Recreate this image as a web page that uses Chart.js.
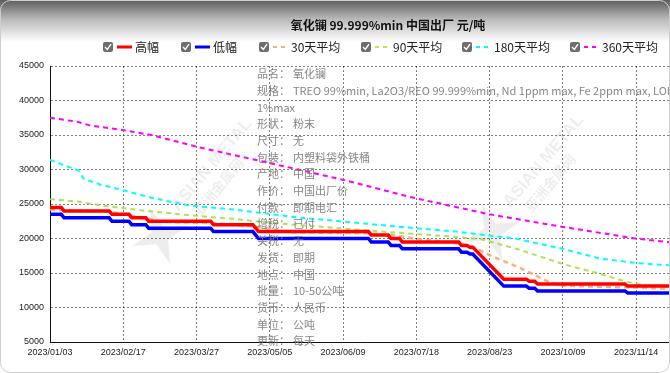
<!DOCTYPE html>
<html><head><meta charset="utf-8">
<script src="https://cdn.jsdelivr.net/npm/chart.js@4"></script>
<style>
html,body{margin:0;padding:0;background:#fff;}
canvas{display:block;}
</style></head>
<body>
<canvas id="c" width="670" height="373"></canvas>
<script>
// ---------- data ----------
const titleText = '氧化镧 99.999%min 中国出厂 元/吨';
const seriesNames = ['高幅', '低幅', '30天平均', '90天平均', '180天平均', '360天平均'];
const xTickIdx = [0, 26, 52, 78, 104, 130, 156, 182, 208];
const xTickLabels = ['2023/01/03', '2023/02/17', '2023/03/27', '2023/05/05', '2023/06/09', '2023/07/18', '2023/08/23', '2023/10/09', '2023/11/14'];
const yTicks = [5000, 10000, 15000, 20000, 25000, 30000, 35000, 40000, 45000];

// [trading-day index, price]
const high = [[0,24500],[4,24500],[5,24000],[21,24000],[22,23500],[28,23500],[29,23000],[34,23000],[35,22500],[57,22500],[58,22000],[72,22000],[73,21500],[74,21000],[113,21000],[114,20500],[120,20500],[121,20000],[124,20000],[125,19500],[145,19500],[146,19000],[148,19000],[149,18750],[150,18750],[161,14100],[169,14100],[170,13800],[172,13800],[173,13400],[204,13400],[205,13100],[220,13100]];
const low = [[0,23500],[4,23500],[5,23000],[21,23000],[22,22500],[28,22500],[29,22000],[34,22000],[35,21500],[57,21500],[58,21000],[72,21000],[73,20500],[74,20000],[113,20000],[114,19500],[120,19500],[121,19000],[124,19000],[125,18500],[145,18500],[146,18000],[148,18000],[149,17750],[150,17750],[161,13100],[169,13100],[170,12800],[172,12800],[173,12400],[204,12400],[205,12100],[220,12100]];
const avg30 = [[0,24150],[18,23950],[21,23900],[27,23450],[32,23100],[39,22500],[44,22350],[57,22250],[64,22000],[73,21700],[78,21400],[85,20900],[113,20750],[121,20550],[131,19900],[142,19450],[148,19050],[151,18600],[156,17600],[167,15700],[176,13900],[181,13150],[202,12950],[220,12700]];
const avg90 = [[0,25700],[10,25350],[18,24800],[32,24100],[49,23400],[65,22850],[75,22400],[99,21600],[121,20900],[142,20300],[153,19900],[166,18450],[182,16300],[194,15000],[205,13700],[212,13150],[220,13000]];
const avg180 = [[0,31400],[5,30600],[10,29900],[12,28650],[18,27800],[26,27000],[36,25900],[49,24800],[65,24200],[75,23700],[89,23000],[103,22500],[124,21700],[144,21000],[165,20000],[182,18500],[195,17100],[208,16450],[220,16100]];
const avg360 = [[0,37500],[10,36900],[14,36400],[26,35700],[36,35000],[52,33300],[75,31200],[87,30100],[105,28400],[129,25900],[156,23500],[181,21750],[207,20050],[220,19450]];

const infoLabels = ['品名：','规格：','1%max','形状：','尺寸：','包装：','产地：','作价：','付款：','增税：','关税：','发货：','地点：','批量：','货币：','单位：','更新：'];
const infoValues = ['氧化镧','TREO 99%min, La2O3/REO 99.999%min, Nd 1ppm max, Fe 2ppm max, LOI','','粉末','无','内塑料袋外铁桶','中国','中国出厂价','即期电汇','已付','无','即期','中国','10-50公吨','人民币','公吨','每天'];

// ---------- styles ----------
const colors = ['#ff0000', '#0000ff', 'rgba(244,164,96,0.85)', 'rgba(160,222,60,0.85)', '#00ffff', '#ff00ff'];
const swatchColors = ['#ff0000', '#0000ff', '#f4b183', '#b5e853', '#00ffff', '#ff00ff'];
const toXY = arr => arr.map(p => ({x: p[0], y: p[1]}));

function star4(ctx, cx, cy, r1, r2) {
  ctx.beginPath();
  for (let i = 0; i < 8; i++) {
    const a = -Math.PI / 2 + i * Math.PI / 4;
    const r = i % 2 === 0 ? r1 : r2;
    const px = cx + r * Math.cos(a), py = cy + r * Math.sin(a);
    if (i === 0) ctx.moveTo(px, py); else ctx.lineTo(px, py);
  }
  ctx.closePath();
  ctx.fill();
}
function watermark(ctx, x, y) {
  ctx.save();
  ctx.translate(x, y);
  ctx.fillStyle = 'rgba(0,0,0,0.07)';
  ctx.save(); ctx.rotate(-20 * Math.PI / 180); star4(ctx, 0, 0, 30, 9); ctx.restore();
  ctx.rotate(-50 * Math.PI / 180);
  ctx.font = 'bold 17px "Liberation Sans"';
  ctx.textBaseline = 'middle';
  ctx.fillText('ASIAN METAL', 30, -6);
  ctx.font = 'bold 14px "Noto Sans CJK SC"';
  ctx.fillText('亚洲金属网', 40, 13);
  ctx.restore();
}

const deco = {
  id: 'deco',
  beforeDraw(chart) {
    const ctx = chart.ctx;
    ctx.save();
    ctx.fillStyle = '#fff';
    ctx.fillRect(0, 0, 670, 373);
    const g = ctx.createLinearGradient(0, 0, 0, 42);
    g.addColorStop(0, '#5c5c5c');
    g.addColorStop(0.45, '#b8b8b8');
    g.addColorStop(1, '#ffffff');
    ctx.fillStyle = g;
    ctx.fillRect(0, 0, 670, 42);
    ctx.restore();
  },
  beforeDatasetsDraw(chart) {
    const ctx = chart.ctx;
    watermark(ctx, 160, 236);
    watermark(ctx, 492, 232);
  },
  afterDraw(chart) {
    const ctx = chart.ctx;
    ctx.save();
    // title
    ctx.fillStyle = '#111';
    ctx.font = 'bold 12px "Noto Sans CJK SC"';
    ctx.textAlign = 'center';
    ctx.textBaseline = 'middle';
    ctx.fillText(titleText, 388, 25);
    // legend
    const cbX = [103, 181, 259, 361, 462, 570];
    ctx.textAlign = 'left';
    ctx.font = '12px "Noto Sans CJK SC"';
    const ly = 47;
    for (let i = 0; i < seriesNames.length; i++) {
      const x = cbX[i];
      ctx.fillStyle = '#6e6e6e';
      ctx.beginPath();
      ctx.roundRect(x, ly - 5, 10, 10, 2);
      ctx.fill();
      ctx.strokeStyle = '#fff';
      ctx.lineWidth = 1.4;
      ctx.setLineDash([]);
      ctx.beginPath();
      ctx.moveTo(x + 2, ly);
      ctx.lineTo(x + 4.3, ly + 2.5);
      ctx.lineTo(x + 8, ly - 2.8);
      ctx.stroke();
      ctx.strokeStyle = swatchColors[i];
      if (i < 2) { ctx.lineWidth = 3; ctx.setLineDash([]); }
      else { ctx.lineWidth = 2; ctx.setLineDash([4, 4]); }
      ctx.beginPath();
      ctx.moveTo(x + 14, ly);
      ctx.lineTo(x + 29, ly);
      ctx.stroke();
      ctx.setLineDash([]);
      ctx.fillStyle = '#222';
      ctx.fillText(seriesNames[i], x + 32, ly);
    }
    // info block
    ctx.font = '11px "Noto Sans CJK SC"';
    ctx.fillStyle = 'rgba(120,120,120,0.9)';
    for (let i = 0; i < infoLabels.length; i++) {
      const y = 74 + i * 16.7;
      ctx.fillText(infoLabels[i], 257, y);
      if (infoValues[i]) ctx.fillText(infoValues[i], 293, y);
    }
    // border
    ctx.strokeStyle = '#cfcfcf';
    ctx.lineWidth = 1;
    ctx.beginPath();
    ctx.roundRect(0.5, 0.5, 669, 372, 10);
    ctx.stroke();
    ctx.restore();
  }
};

const gridStyle = {color: 'rgba(0,0,0,0.5)', drawTicks: false, lineWidth: 1};
const borderStyle = {color: '#111', width: 1, dash: [2, 2]};
const tickFont = {family: '"Liberation Sans"', size: 9};

new Chart(document.getElementById('c').getContext('2d'), {
  type: 'line',
  data: {
    datasets: [
      {label: seriesNames[0], data: toXY(high), borderColor: colors[0], borderWidth: 3.5},
      {label: seriesNames[1], data: toXY(low), borderColor: colors[1], borderWidth: 3.5},
      {label: seriesNames[2], data: toXY(avg30), borderColor: colors[2], borderWidth: 2.5, borderDash: [5, 4]},
      {label: seriesNames[3], data: toXY(avg90), borderColor: colors[3], borderWidth: 2, borderDash: [5, 4]},
      {label: seriesNames[4], data: toXY(avg180), borderColor: colors[4], borderWidth: 2, borderDash: [5, 4]},
      {label: seriesNames[5], data: toXY(avg360), borderColor: colors[5], borderWidth: 2, borderDash: [5, 4]}
    ]
  },
  options: {
    responsive: false,
    animation: false,
    devicePixelRatio: 1,
    layout: {padding: {top: 66, left: 0, right: 0, bottom: 0}},
    elements: {point: {radius: 0}, line: {tension: 0, fill: false}},
    plugins: {legend: {display: false}, title: {display: false}, tooltip: {enabled: false}},
    scales: {
      x: {
        type: 'linear', min: 0, max: 220,
        afterBuildTicks: s => { s.ticks = xTickIdx.map(v => ({value: v})); },
        afterFit: s => { s.height = 31; },
        ticks: {callback: (v, i) => xTickLabels[i], font: tickFont, color: '#222', padding: 5, maxRotation: 0, autoSkip: false},
        grid: gridStyle, border: borderStyle
      },
      y: {
        min: 5000, max: 45000,
        afterBuildTicks: s => { s.ticks = yTicks.map(v => ({value: v})); },
        afterFit: s => { s.width = 50; },
        ticks: {callback: v => String(v), font: tickFont, color: '#222', padding: 6},
        grid: gridStyle, border: borderStyle
      }
    }
  },
  plugins: [deco]
});
</script>
</body></html>
